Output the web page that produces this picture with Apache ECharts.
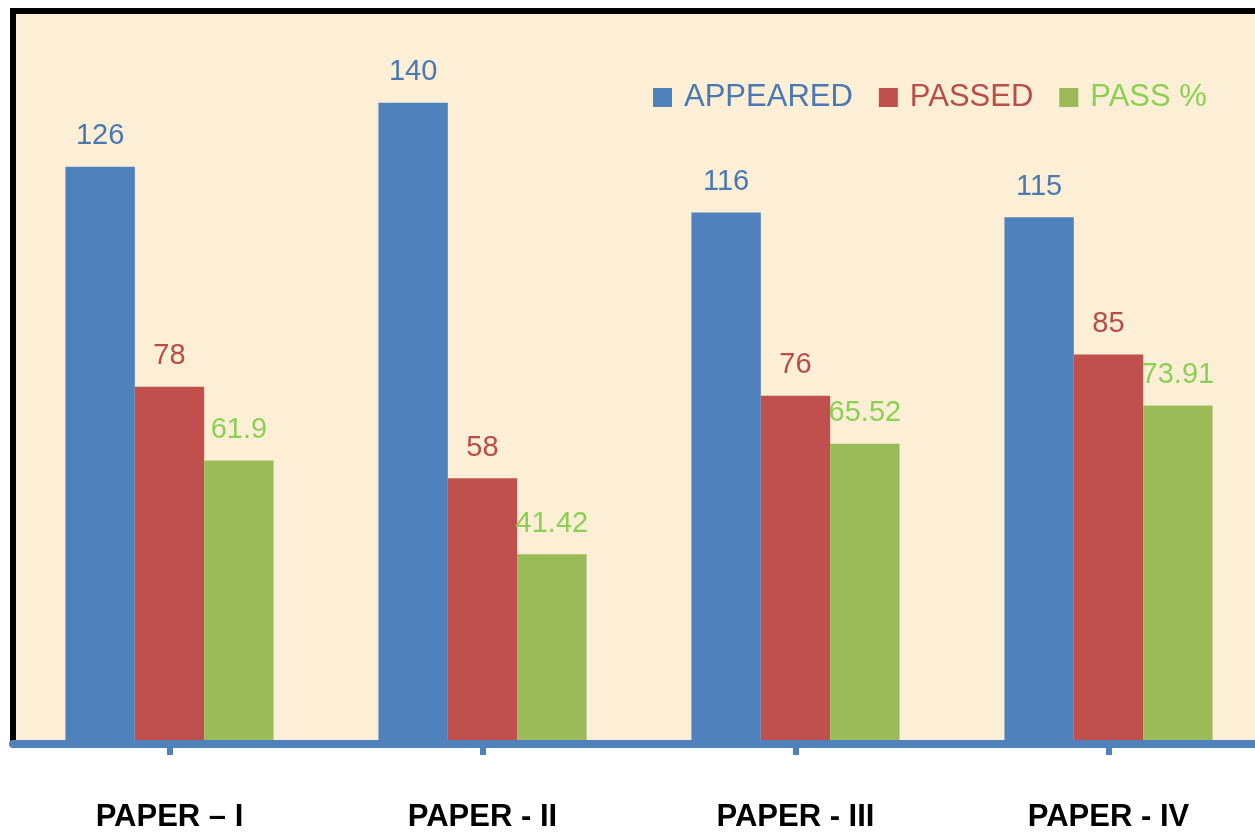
<!DOCTYPE html>
<html>
<head>
<meta charset="utf-8">
<script src="https://cdn.jsdelivr.net/npm/echarts@6/dist/echarts.min.js"></script>
<style>
html,body{margin:0;padding:0;background:#ffffff;overflow:hidden;width:1255px;height:833px;}
#chart{width:1265px;height:833px;}
</style>
</head>
<body>
<div id="chart"></div>
<script>
var categories = ['PAPER \u2013 I', 'PAPER - II', 'PAPER - III', 'PAPER - IV'];
var appeared = [126, 140, 116, 115];
var passed = [78, 58, 76, 85];
var passPct = [61.9, 41.42, 65.52, 73.91];
var seriesNames = ['APPEARED', 'PASSED', 'PASS %'];

var barColors = ['#4f81bd', '#c0504d', '#9bbb59'];
var textColors = ['#4a78b0', '#b94d4a', '#8ccf55'];

var chart = echarts.init(document.getElementById('chart'), null, {renderer: 'canvas'});

function makeSeries(name, data, i) {
  return {
    name: name,
    type: 'bar',
    data: data,
    barGap: '0%',
    barCategoryGap: '33.5%',
    itemStyle: {color: barColors[i]},
    label: {
      show: true,
      position: 'top',
      distance: 16,
      color: textColors[i],
      fontFamily: 'Liberation Sans, Arial, sans-serif',
      fontSize: 29,
      fontWeight: 'normal'
    },
    z: 2
  };
}

var option = {
  animation: false,
  backgroundColor: '#ffffff',
  grid: {
    left: 13,
    right: 0,
    top: 11,
    bottom: 83,
    show: true,
    backgroundColor: '#fcefd6',
    borderColor: '#000000',
    borderWidth: 6
  },
  legend: {
    left: 648,
    top: 77,
    itemWidth: 19,
    itemHeight: 19,
    itemGap: 26,
    icon: 'rect',
    textStyle: {
      fontFamily: 'Liberation Sans, Arial, sans-serif',
      fontSize: 31,
      padding: [0, 0, 0, 7]
    },
    data: seriesNames.map(function (n, i) {
      return {name: n, textStyle: {color: textColors[i]}};
    })
  },
  xAxis: {
    type: 'category',
    data: categories,
    z: 5,
    axisLine: {show: true, lineStyle: {color: '#4f81bd', width: 8}},
    axisTick: {show: true, alignWithLabel: true, length: 11, lineStyle: {color: '#4f81bd', width: 6}},
    axisLabel: {
      color: '#000000',
      fontFamily: 'Liberation Sans, Arial, sans-serif',
      fontWeight: 'bold',
      fontSize: 31,
      margin: 58
    },
    splitLine: {show: false}
  },
  yAxis: {
    type: 'value',
    min: 0,
    max: 160,
    interval: 20,
    show: false,
    splitLine: {show: false}
  },
  series: [
    makeSeries(seriesNames[0], appeared, 0),
    makeSeries(seriesNames[1], passed, 1),
    makeSeries(seriesNames[2], passPct, 2)
  ]
};

chart.setOption(option);
</script>
</body>
</html>
